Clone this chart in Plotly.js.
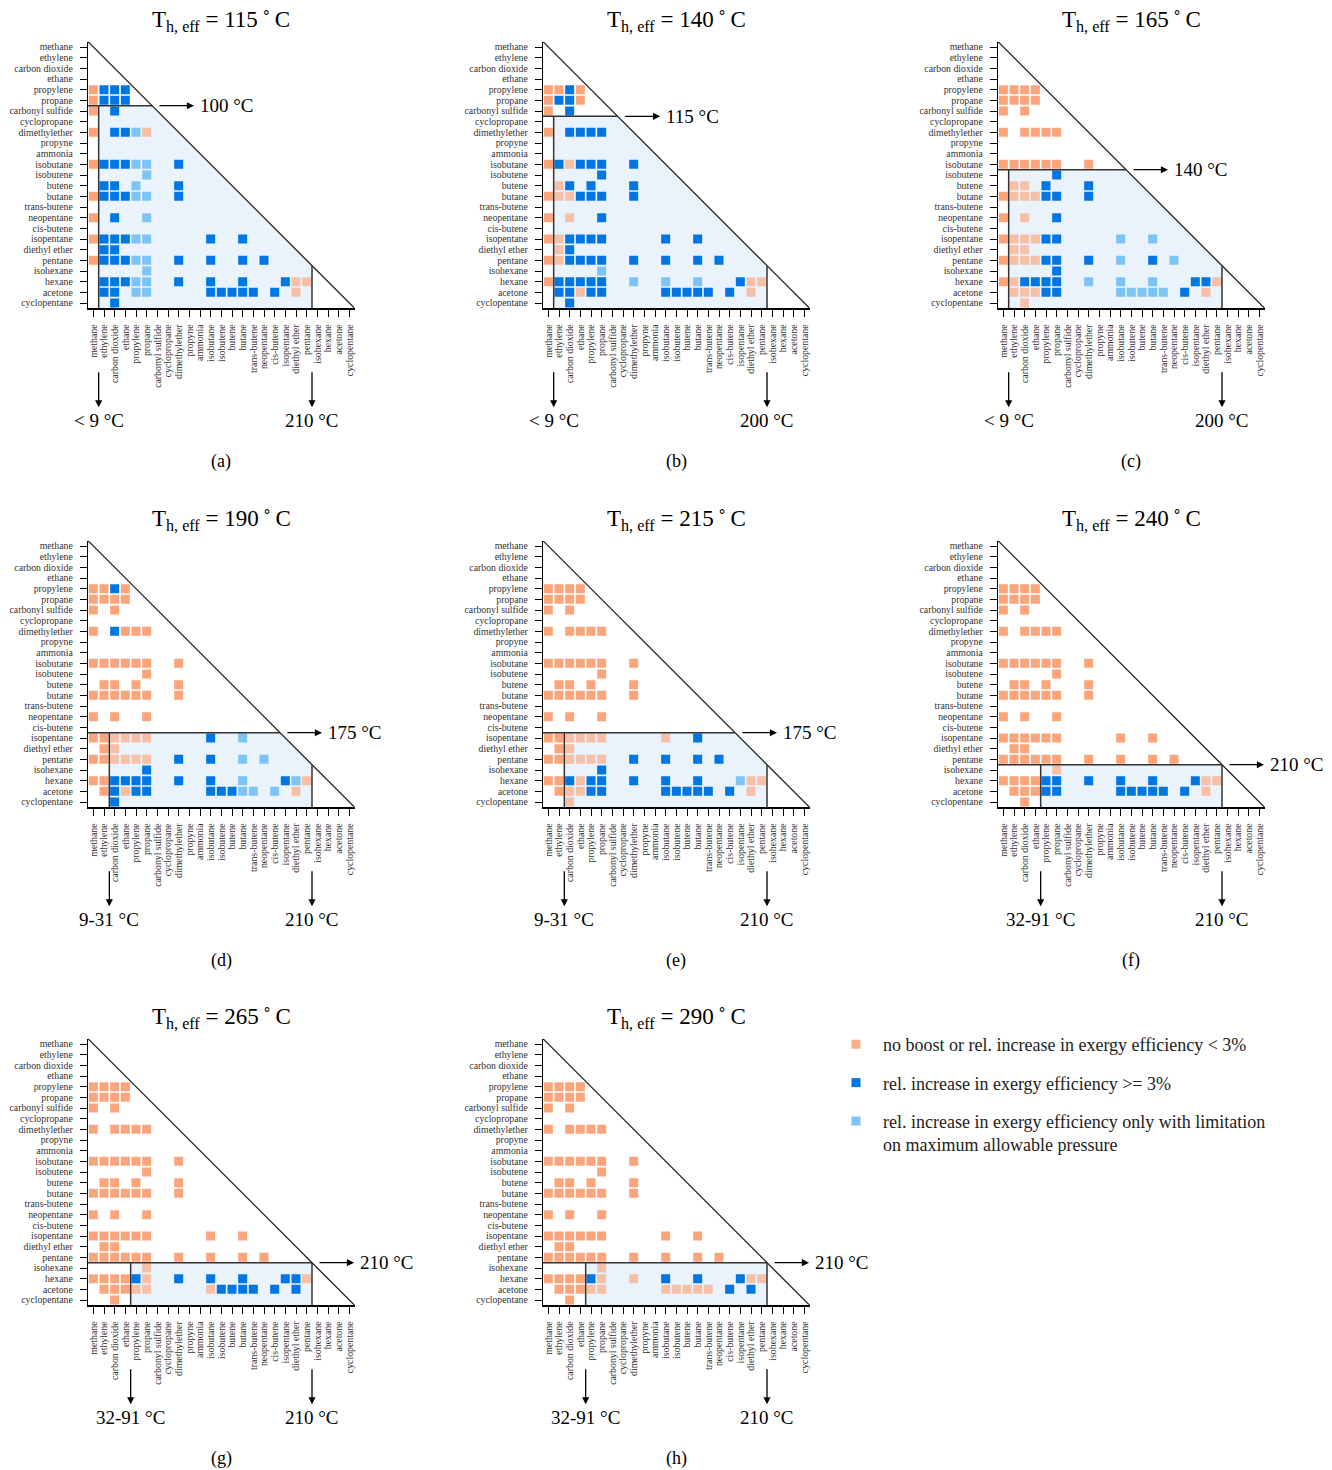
<!DOCTYPE html>
<html>
<head>
<meta charset="utf-8">
<script src="https://cdn.plot.ly/plotly-3.0.1.min.js"></script>
<style>html,body{margin:0;padding:0;background:#fff}#chart{width:1332px;height:1470px}</style>
</head>
<body>
<div id="chart"></div>
<script>
// ---------------- DATA ----------------
const fluids = ['methane','ethylene','carbon dioxide','ethane','propylene','propane','carbonyl sulfide','cyclopropane','dimethylether','propyne','ammonia','isobutane','isobutene','butene','butane','trans-butene','neopentane','cis-butene','isopentane','diethyl ether','pentane','isohexane','hexane','acetone','cyclopentane'];

// cell codes per row (row = fluid, column index = fluid index): o = no boost / < 3 %, b = >= 3 %, l = only with pressure limitation
const gridA = ['','','','','obbb','obbb','o.b','','o.bblo','','','obbbll..b','.....l','.bb.l...b','obbbll..b','','o.b..l','','obbbll.....b..b','.bb','obbbll..b..b..b.b','.....l','.bbbll..b..b..b...boo','.bb.ll.....bbbbb.b.o','..b'];
const gridB = ['','','','','oobo','obbo','o.b','','o.bbbb','','','obobbb..b','.....b','.ob.b...b','ooobbb..b','','o.o..b','','oobbbb.....b..b','.ob','oobbbb..b..b..b.b','.....l','obbbbb..l..l..l...boo','.bbobb.....bbbbb.b.o','..b'];
const gridC = ['','','','','oooo','oooo','o.o','','o.oooo','','','oooooo..o','.....b','.oo.b...b','oooobb..b','','o.o..b','','oooobb.....l..l','.oo','oooobb..b..l..b.l','.....b','oobbbb..l..l..l...bbo','.ooobb.....lllll.b.o','..o'];
const gridD = ['','','','','oobo','oooo','o.o','','o.booo','','','oooooo..o','.....o','.oo.o...o','oooooo..o','','o.o..o','','oooooo.....b..l','.oo','oooooo..b..b..l.l','.....b','oobbbb..b..b..l...blo','.obobb.....bbbll.l.o','..b'];
const gridE = ['','','','','oooo','oooo','o.o','','o.oooo','','','oooooo..o','.....o','.oo.o...o','oooooo..o','','o.o..o','','oooooo.....o..b','.oo','oooooo..b..b..b.b','.....b','oobobb..b..b..b...loo','.ooobb.....bbbbb.b.o','..o'];
const gridF = ['','','','','oooo','oooo','o.o','','o.oooo','','','oooooo..o','.....o','.oo.o...o','oooooo..o','','o.o..o','','oooooo.....o..o','.oo','oooooo..o..o..o.o','.....o','oooobb..b..b..b...boo','.ooobb.....bbbbb.b.o','..o'];
const gridG = ['','','','','oooo','oooo','o.o','','o.oooo','','','oooooo..o','.....o','.oo.o...o','oooooo..o','','o.o..o','','oooooo.....o..o','.oo','oooooo..o..o..o.o','.....o','oooobo..b..b..b...bbo','.ooooo.....obbbb.b.b','..o'];
const gridH = ['','','','','oooo','oooo','o.o','','o.oooo','','','oooooo..o','.....o','.oo.o...o','oooooo..o','','o.o..o','','oooooo.....o..o','.oo','oooooo..o..o..o.o','.....o','oooobo..o..b..b...boo','.ooooo.....ooooo.b.b','..o'];
const grids = [gridA, gridB, gridC, gridD, gridE, gridF, gridG, gridH];

const heatTemps   = [115, 140, 165, 190, 215, 240, 265, 290];            // T_h,eff in °C
const boostTemps  = ['100 °C','115 °C','140 °C','175 °C','175 °C','210 °C','210 °C','210 °C'];
const lowTemps    = ['< 9 °C','< 9 °C','< 9 °C','9-31 °C','9-31 °C','32-91 °C','32-91 °C','32-91 °C'];
const highTemps   = ['210 °C','200 °C','200 °C','210 °C','210 °C','210 °C','210 °C','210 °C'];
const splitRowAfter   = ['propane','carbonyl sulfide','isobutane','cis-butene','cis-butene','pentane','pentane','pentane'];
const splitColAfter   = ['methane','methane','methane','ethylene','ethylene','ethane','ethane','ethane'];
const rightColAfter   = ['pentane','pentane','pentane','pentane','pentane','pentane','pentane','pentane'];
const panelLabels = ['(a)','(b)','(c)','(d)','(e)','(f)','(g)','(h)'];
const categoryNames = {
  o: 'no boost or rel. increase in exergy efficiency < 3%',
  b: 'rel. increase in exergy efficiency >= 3%',
  l: 'rel. increase in exergy efficiency only with limitation<br>on maximum allowable pressure'
};

// ---------------- STYLE / LAYOUT ----------------
const colors = {o: 'rgb(252,164,122)', b: 'rgb(0,118,228)', l: 'rgb(125,196,246)'};
const FONT = 'Liberation Serif, Times New Roman, serif';
const W = 1332, H = 1470;
const N = fluids.length;
const CELL = 32 / 3;
const S = N * CELL;
const colX = [88, 543, 998];
const rowY = [41.7, 540.7, 1038.7];

const traces = [];
const layout = {
  width: W, height: H,
  margin: {l: 0, r: 0, t: 0, b: 0},
  paper_bgcolor: '#fff', plot_bgcolor: 'rgba(0,0,0,0)',
  font: {family: FONT, color: '#000'},
  showlegend: true,
  legend: {
    x: 829 / W, y: 1 - 1026 / H, xanchor: 'left', yanchor: 'top',
    font: {family: FONT, size: 18, color: '#222'}, itemwidth: 44,
    tracegroupgap: 12, valign: 'top', bgcolor: 'rgba(0,0,0,0)'
  },
  shapes: [], annotations: []
};

const idx = name => fluids.indexOf(name);

grids.forEach((grid, p) => {
  const k = p === 0 ? '' : String(p + 1);
  const xa = 'x' + k, ya = 'y' + k;
  const x0 = colX[p % 3], y0 = rowY[Math.floor(p / 3)];
  const T = idx(splitRowAfter[p]) + 0.5;
  const L = idx(splitColAfter[p]) + 0.5;
  const R = idx(rightColAfter[p]) + 0.5;
  const B = N - 0.5;

  const axisCommon = {
    showgrid: false, zeroline: false, showline: true,
    linecolor: '#000', linewidth: 1.2, ticks: 'outside', ticklen: 7, tickwidth: 1, tickcolor: '#000',
    tickmode: 'array', tickvals: fluids.map((f, i) => i), ticktext: fluids,
    tickfont: {family: FONT, size: 9.8, color: '#333'}, fixedrange: true, automargin: false
  };
  layout['xaxis' + k] = Object.assign({}, axisCommon, {
    domain: [x0 / W, (x0 + S) / W], range: [-0.5, N - 0.5], anchor: ya, tickangle: -90, ticklabelstandoff: 4
  });
  layout['yaxis' + k] = Object.assign({}, axisCommon, {
    domain: [1 - (y0 + S) / H, 1 - y0 / H], range: [N - 0.5, -0.5], anchor: xa, ticklabelstandoff: 5
  });

  // cells
  ['o', 'b', 'l'].forEach(code => {
    const xs = [], ys = [], op = [], txt = [];
    grid.forEach((row, i) => {
      for (let j = 0; j < row.length; j++) {
        if (row[j] === code) {
          xs.push(j); ys.push(i);
          txt.push(fluids[i] + ' / ' + fluids[j]);
          const inside = j > L && j < R && i > T;
          op.push(code === 'o' && inside ? 0.66 : 1);
        }
      }
    });
    traces.push({
      type: 'scatter', mode: 'markers', x: xs, y: ys, xaxis: xa, yaxis: ya,
      text: txt, hoverinfo: 'text',
      name: categoryNames[code], legendgroup: code, showlegend: p === 0,
      marker: {symbol: 'square', size: 9, color: colors[code], opacity: op, line: {width: 0}}
    });
  });

  // shaded boosted region
  layout.shapes.push({
    type: 'path', xref: xa, yref: ya, layer: 'below',
    path: `M ${L},${B} L ${L},${T} L ${T},${T} L ${R},${R} L ${R},${B} Z`,
    fillcolor: '#eaf3fc', line: {width: 0}
  });
  const ln = {color: '#333', width: 1.5};
  layout.shapes.push({type: 'line', xref: xa, yref: ya, x0: -0.5, y0: -0.5, x1: N - 0.5, y1: N - 0.5, line: {color: '#222', width: 1.3}});
  layout.shapes.push({type: 'line', xref: xa, yref: ya, x0: -0.5, y0: T, x1: T, y1: T, line: ln});
  layout.shapes.push({type: 'line', xref: xa, yref: ya, x0: L, y0: T, x1: L, y1: B, line: ln});
  layout.shapes.push({type: 'line', xref: xa, yref: ya, x0: R, y0: R, x1: R, y1: B, line: ln});

  const arrow = {showarrow: true, arrowside: 'start', startarrowhead: 2, startarrowsize: 1.1, arrowwidth: 1.3,
    arrowcolor: '#000', standoff: 0, axref: 'pixel', ayref: 'pixel', font: {family: FONT, size: 19, color: '#000'}};
  // right arrow with boost temperature (arrow points towards the label)
  layout.annotations.push(Object.assign({}, arrow, {xref: xa, yref: ya, x: T, y: T, xshift: 7.5, ax: 67, ay: 0,
    startstandoff: 4, text: boostTemps[p]}));
  // bottom arrows with temperatures
  [[L, lowTemps[p]], [R, highTemps[p]]].forEach(([xv, label]) => {
    layout.annotations.push(Object.assign({}, arrow, {xref: xa, yref: ya, x: xv, y: B, yshift: -64, ax: 0, ay: 48,
      startstandoff: 1, text: label}));
  });
  // title
  layout.annotations.push({xref: 'paper', yref: 'paper', x: (x0 + S / 2) / W, y: 1 - (y0 - 21) / H,
    xanchor: 'center', yanchor: 'middle', showarrow: false,
    text: 'T<sub>h, eff</sub> = ' + heatTemps[p] + '\u2009˚\u2009C', font: {family: FONT, size: 23, color: '#000'}});
  // panel label
  layout.annotations.push({xref: 'paper', yref: 'paper', x: (x0 + S / 2) / W, y: 1 - (y0 + 420) / H,
    xanchor: 'center', yanchor: 'middle', showarrow: false,
    text: panelLabels[p], font: {family: FONT, size: 18, color: '#000'}});
});

Plotly.newPlot('chart', traces, layout, {displayModeBar: false, staticPlot: true}).then(gd => {
  // drop the empty axis-title placeholders (this figure has no axis titles)
  gd.querySelectorAll('text').forEach(t => {
    const cls = t.getAttribute('class') || '';
    if (/^[xy]\d*title$/.test(cls) && !t.textContent.trim()) t.remove();
  });
});
</script>
</body>
</html>
